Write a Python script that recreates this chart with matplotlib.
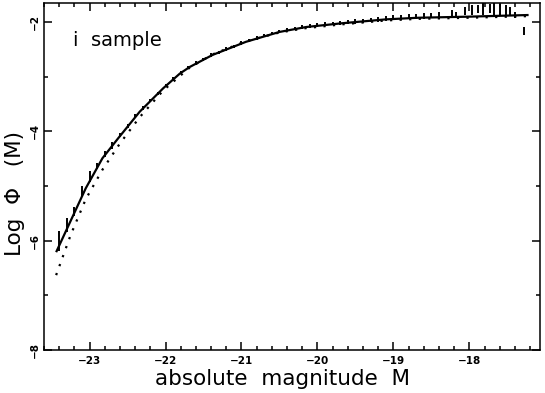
import numpy as np
import matplotlib
matplotlib.use("Agg")
import matplotlib.pyplot as plt
from matplotlib.ticker import MultipleLocator

# solid fit
fit_M = [-23.44, -23.25, -23.05, -22.83, -22.62, -22.34, -22.03, -21.81, -21.68,
         -21.38, -20.94, -20.50, -20.15, -19.67, -19.10, -18.67, -18.00, -17.22]
fit_logphi = [-6.21, -5.64, -5.04, -4.49, -4.12, -3.64, -3.21, -2.94, -2.82,
              -2.60, -2.36, -2.18, -2.09, -2.02, -1.95, -1.92, -1.90, -1.87]

# dotted fit
dot_M = [-23.44, -23.25, -23.05, -22.83, -22.60, -22.34, -22.03, -21.68, -21.38,
         -20.94, -20.50, -20.15, -19.67, -19.10, -18.67, -18.00, -17.22]
dot_logphi = [-6.63, -5.90, -5.24, -4.70, -4.22, -3.74, -3.25, -2.83, -2.59,
              -2.35, -2.19, -2.11, -2.04, -1.97, -1.94, -1.92, -1.89]

# binned data: error bar ends
bin_M = [-23.4, -23.3, -23.2, -23.1, -23.0, -22.9, -22.8, -22.7, -22.6, -22.5,
         -22.4, -22.3, -22.2, -22.1, -22.0, -21.9, -21.8, -21.7, -21.6, -21.5,
         -21.4, -21.3, -21.2, -21.1, -21.0, -20.9, -20.8, -20.7, -20.6, -20.5,
         -20.4, -20.3, -20.2, -20.1, -20.0, -19.9, -19.8, -19.7, -19.6, -19.5,
         -19.4, -19.3, -19.2, -19.1, -19.0, -18.9, -18.8, -18.7, -18.6, -18.5,
         -18.4, -18.23, -18.17, -18.06, -17.97, -17.88, -17.82, -17.73, -17.67,
         -17.60, -17.52, -17.47, -17.40, -17.28]
err_lo = [-6.18, -5.84, -5.54, -5.20, -4.92, -4.68, -4.46, -4.32, -4.11, -3.94,
          -3.76, -3.60, -3.47, -3.33, -3.19, -3.07, -2.95, -2.86, -2.78, -2.71,
          -2.63, -2.58, -2.52, -2.47, -2.41, -2.36, -2.32, -2.28, -2.24, -2.20,
          -2.17, -2.15, -2.12, -2.10, -2.09, -2.07, -2.06, -2.05, -2.04, -2.03,
          -2.02, -2.00, -1.99, -1.98, -1.96, -1.96, -1.95, -1.94, -1.94, -1.93,
          -1.93, -1.91, -1.91, -1.87, -1.87, -1.84, -1.87, -1.84, -1.87,
          -1.87, -1.87, -1.87, -1.93, -2.24]
err_hi = [-5.82, -5.58, -5.39, -4.99, -4.72, -4.57, -4.36, -4.20, -4.03, -3.87,
          -3.69, -3.53, -3.40, -3.27, -3.13, -3.01, -2.89, -2.80, -2.72, -2.65,
          -2.57, -2.52, -2.46, -2.41, -2.35, -2.30, -2.26, -2.22, -2.18, -2.14,
          -2.11, -2.09, -2.06, -2.03, -2.02, -2.00, -1.99, -1.98, -1.97, -1.95,
          -1.94, -1.92, -1.91, -1.89, -1.87, -1.87, -1.86, -1.85, -1.84, -1.84,
          -1.82, -1.78, -1.82, -1.72, -1.69, -1.69, -1.63, -1.66, -1.63,
          -1.66, -1.69, -1.72, -1.81, -2.09]

fig = plt.figure(figsize=(5.45, 3.93), dpi=100)
ax = fig.add_axes([0.0807, 0.1094, 0.9101, 0.883])

ax.plot(fit_M, fit_logphi, color="black", lw=1.6, solid_capstyle="butt")
ax.plot(dot_M, dot_logphi, color="black", lw=1.6, linestyle=(0, (1, 3.3)))
ax.vlines(bin_M, err_lo, err_hi, color="black", lw=1.4)

ax.set_xlim(-23.6, -17.07)
ax.set_ylim(-8, -1.65)

ax.xaxis.set_major_locator(MultipleLocator(1))
ax.xaxis.set_minor_locator(MultipleLocator(0.2))
ax.yaxis.set_major_locator(MultipleLocator(2))
ax.yaxis.set_minor_locator(MultipleLocator(1))
ax.tick_params(which="both", direction="in", top=True, right=True, width=1.1)
ax.tick_params(which="major", length=6)
ax.tick_params(which="minor", length=3)
ax.tick_params(axis="x", labelsize=7.5, pad=4)
ax.tick_params(axis="y", labelsize=7.5, pad=3)
for lab in ax.get_xticklabels() + ax.get_yticklabels():
    lab.set_fontweight("bold")
for lab in ax.get_yticklabels():
    lab.set_rotation(90)
    lab.set_va("center")
for s in ax.spines.values():
    s.set_linewidth(1.1)

ax.set_xlabel("absolute  magnitude  M", fontsize=15.5)
ax.xaxis.set_label_coords(0.48, -0.056)
ax.set_ylabel("Log  \u03a6   (M)", fontsize=15.5)
ax.yaxis.set_label_coords(-0.038, 0.45)
ax.text(0.058, 0.893, "i  sample", transform=ax.transAxes, fontsize=14,
        ha="left", va="center")

fig.savefig("out.png", dpi=100)
